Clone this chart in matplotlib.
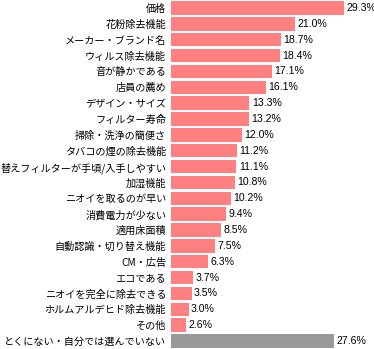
import matplotlib.pyplot as plt

plt.rcParams['font.family'] = ['Noto Sans CJK JP', 'DejaVu Sans']

labels = ['価格', '花粉除去機能', 'メーカー・ブランド名', 'ウィルス除去機能', '音が静かである',
          '店員の薦め', 'デザイン・サイズ', 'フィルター寿命', '掃除・洗浄の簡便さ', 'タバコの煙の除去機能',
          '替えフィルターが手頃/入手しやすい', '加湿機能', 'ニオイを取るのが早い', '消費電力が少ない',
          '適用床面積', '自動認識・切り替え機能', 'CM・広告', 'エコである', 'ニオイを完全に除去できる',
          'ホルムアルデヒド除去機能', 'その他', 'とくにない・自分では選んでいない']
values = [29.3, 21.0, 18.7, 18.4, 17.1, 16.1, 13.3, 13.2, 12.0, 11.2, 11.1,
          10.8, 10.2, 9.4, 8.5, 7.5, 6.3, 3.7, 3.5, 3.0, 2.6, 27.6]

colors = ['#FF8080'] * (len(values) - 1) + ['#999999']

fig = plt.figure(figsize=(3.74, 3.49), dpi=100)
ax = fig.add_axes([171 / 374, 0, 203 / 374, 1])

y = list(range(len(values)))
ax.barh(y, values, height=0.85, color=colors)

# value labels just right of each bar
for yi, v in zip(y, values):
    ax.text(v + 0.4, yi, f'{v:.1f}%', va='center', ha='left', fontsize=7.6,
            family=['Liberation Sans Narrow', 'Liberation Sans'])

ax.set_yticks(y)
ax.set_yticklabels(labels, fontsize=7.3)
ax.tick_params(axis='y', length=0, pad=3.5)
ax.set_xticks([])
ax.set_xlim(0, 203 / 5.9)
ax.set_ylim(len(values) - 0.5, -0.5)
for s in ax.spines.values():
    s.set_visible(False)

fig.savefig('out.png', dpi=100)
